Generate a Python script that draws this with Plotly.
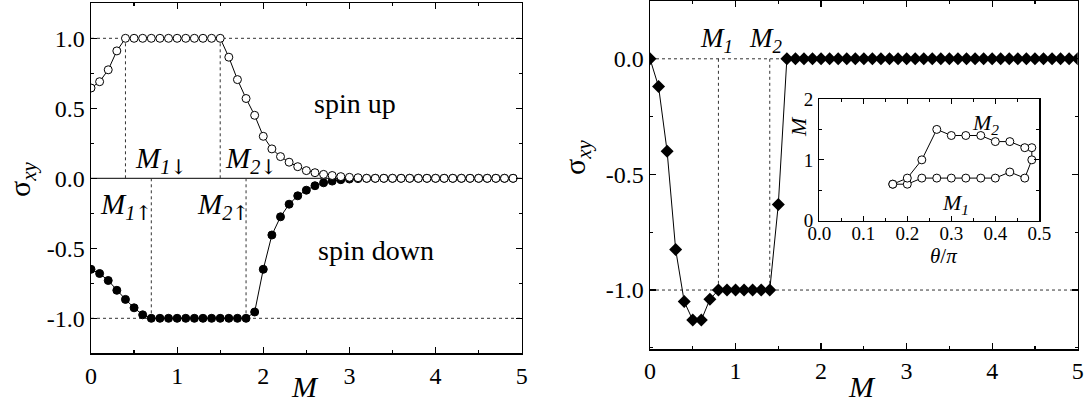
import plotly.graph_objects as go

# ---------------- data ----------------
M_left = [0.0, 0.1, 0.2, 0.3, 0.4, 0.5, 0.6, 0.7, 0.8, 0.9,
          1.0, 1.1, 1.2, 1.3, 1.4, 1.5, 1.6, 1.7, 1.8, 1.9,
          2.0, 2.1, 2.2, 2.3, 2.4, 2.5, 2.6, 2.7, 2.8, 2.9,
          3.0, 3.1, 3.2, 3.3, 3.4, 3.5, 3.6, 3.7, 3.8, 3.9,
          4.0, 4.1, 4.2, 4.3, 4.4, 4.5, 4.6, 4.7, 4.8, 4.9]
sigma_up = [0.645, 0.69, 0.775, 0.91, 1.0, 1.0, 1.0, 1.0, 1.0, 1.0,
            1.0, 1.0, 1.0, 1.0, 1.0, 1.0, 0.865, 0.705, 0.57, 0.45,
            0.30, 0.21, 0.155, 0.115, 0.083, 0.055, 0.04, 0.028, 0.02, 0.012,
            0.007, 0.004, 0, 0, 0, 0, 0, 0, 0, 0,
            0, 0, 0, 0, 0, 0, 0, 0, 0, 0]
sigma_down = [-0.65, -0.68, -0.73, -0.80, -0.865, -0.925, -0.975, -1.0, -1.0, -1.0,
              -1.0, -1.0, -1.0, -1.0, -1.0, -1.0, -1.0, -1.0, -1.0, -0.955,
              -0.65, -0.405, -0.275, -0.185, -0.125, -0.085, -0.053, -0.032, -0.02, -0.01,
              -0.005, -0.002, 0, 0, 0, 0, 0, 0, 0, 0,
              0, 0, 0, 0, 0, 0, 0, 0, 0, 0]
M1_down, M2_down, M1_up, M2_up = 0.4, 1.5, 0.7, 1.8

M_right = [0.0, 0.1, 0.2, 0.3, 0.4, 0.5, 0.6, 0.7, 0.8, 0.9,
           1.0, 1.1, 1.2, 1.3, 1.4, 1.5, 1.6, 1.7, 1.8, 1.9,
           2.0, 2.1, 2.2, 2.3, 2.4, 2.5, 2.6, 2.7, 2.8, 2.9,
           3.0, 3.1, 3.2, 3.3, 3.4, 3.5, 3.6, 3.7, 3.8, 3.9,
           4.0, 4.1, 4.2, 4.3, 4.4, 4.5, 4.6, 4.7, 4.8, 4.9, 5.0]
sigma_total = [0.0, -0.12, -0.40, -0.825, -1.05, -1.13, -1.13, -1.04, -1.0, -1.0,
               -1.0, -1.0, -1.0, -1.0, -1.0, -0.63, 0, 0, 0, 0,
               0, 0, 0, 0, 0, 0, 0, 0, 0, 0,
               0, 0, 0, 0, 0, 0, 0, 0, 0, 0,
               0, 0, 0, 0, 0, 0, 0, 0, 0, 0, 0]
M1_tot, M2_tot = 0.8, 1.4

theta_M1 = [0.167, 0.200, 0.233, 0.267, 0.300, 0.333, 0.367, 0.400, 0.433, 0.467]
val_M1 = [0.6, 0.6, 0.7, 0.7, 0.7, 0.7, 0.7, 0.7, 0.8, 0.7]
theta_join = [0.483]
val_join = [1.0]
theta_M2 = [0.483, 0.467, 0.433, 0.400, 0.367, 0.333, 0.300, 0.267, 0.233, 0.200, 0.167]
val_M2 = [1.2, 1.2, 1.3, 1.3, 1.4, 1.4, 1.4, 1.5, 1.0, 0.7, 0.6]

# ---------------- figure ----------------
W, H = 1086, 405
FONT = "Liberation Serif, Times New Roman, DejaVu Serif, serif"
ARROW_FONT = "DejaVu Serif"
DOWN = "<span style='font-family:DejaVu Serif'>\u2193</span>"
UP = "<span style='font-family:DejaVu Serif'>\u2191</span>"


def X(px):
    return px / W


def Y(py):
    return 1 - py / H


fig = go.Figure()

line_k = dict(color="black", width=1)
dotl = dict(color="#333", width=1, dash="dot")

# left panel reference lines
fig.add_trace(go.Scatter(x=[0, 5], y=[1, 1], mode="lines", xaxis="x", yaxis="y",
                         line=dotl, hoverinfo="skip"))
fig.add_trace(go.Scatter(x=[0, 5], y=[-1, -1], mode="lines", xaxis="x", yaxis="y",
                         line=dotl, hoverinfo="skip"))
fig.add_trace(go.Scatter(x=[0, 5], y=[0, 0], mode="lines", xaxis="x", yaxis="y",
                         line=dict(color="black", width=1), hoverinfo="skip"))
for xv, yv in [(M1_down, 1), (M2_down, 1), (M1_up, -1), (M2_up, -1)]:
    fig.add_trace(go.Scatter(x=[xv, xv], y=[0, yv], mode="lines", xaxis="x", yaxis="y",
                             line=dotl, hoverinfo="skip"))

fig.add_trace(go.Scatter(x=M_left, y=sigma_down, mode="lines+markers", xaxis="x", yaxis="y",
                         line=line_k,
                         marker=dict(symbol="circle", size=8, color="black",
                                     line=dict(color="black", width=1))))
fig.add_trace(go.Scatter(x=M_left, y=sigma_up, mode="lines+markers", xaxis="x", yaxis="y",
                         line=line_k,
                         marker=dict(symbol="circle", size=8, color="white",
                                     line=dict(color="black", width=1))))

# right panel reference lines
fig.add_trace(go.Scatter(x=[0, 5], y=[0, 0], mode="lines", xaxis="x2", yaxis="y2",
                         line=dotl, hoverinfo="skip"))
fig.add_trace(go.Scatter(x=[0, 5], y=[-1, -1], mode="lines", xaxis="x2", yaxis="y2",
                         line=dotl, hoverinfo="skip"))
for xv in [M1_tot, M2_tot]:
    fig.add_trace(go.Scatter(x=[xv, xv], y=[0, -1], mode="lines", xaxis="x2", yaxis="y2",
                             line=dotl, hoverinfo="skip"))
fig.add_trace(go.Scatter(x=M_right, y=sigma_total, mode="lines+markers", xaxis="x2", yaxis="y2",
                         line=line_k,
                         marker=dict(symbol="diamond", size=10, color="black",
                                     line=dict(color="black", width=0))))

# inset
fig.add_trace(go.Scatter(x=theta_M1 + theta_join + theta_M2, y=val_M1 + val_join + val_M2,
                         mode="lines+markers", xaxis="x3", yaxis="y3",
                         line=line_k,
                         marker=dict(symbol="circle", size=8, color="white",
                                     line=dict(color="black", width=1))))

tickfont = dict(family=FONT, size=24, color="black")
common = dict(showline=True, linecolor="black", linewidth=1.5, mirror="allticks",
              ticks="inside", ticklen=6, tickwidth=1.2, tickcolor="black",
              showgrid=False, zeroline=False, tickfont=tickfont, automargin=False)
inset_common = dict(showline=True, linecolor="black", linewidth=1.2, mirror="allticks",
                    ticks="inside", ticklen=5, tickcolor="black", showgrid=False,
                    zeroline=False, automargin=False,
                    tickfont=dict(family=FONT, size=19, color="black"))

fig.update_layout(
    width=W, height=H,
    margin=dict(l=0, r=0, t=0, b=0, autoexpand=False),
    paper_bgcolor="white", plot_bgcolor="white",
    showlegend=False,
    font=dict(family=FONT, color="black"),
    xaxis=dict(domain=[X(91), X(521.7)], range=[0, 5], anchor="y",
               tickvals=[0, 1, 2, 3, 4, 5],
               minor=dict(dtick=0.5, tick0=0, ticks="inside", ticklen=3, tickcolor="black"),
               **common),
    yaxis=dict(domain=[Y(353.3), Y(3.3)], range=[-1.25, 1.25], anchor="x",
               tickvals=[-1, -0.5, 0, 0.5, 1], ticktext=["-1.0", "-0.5", "0.0", "0.5", "1.0"],
               minor=dict(dtick=0.25, tick0=0, ticks="inside", ticklen=3, tickcolor="black"),
               **common),
    xaxis2=dict(domain=[X(650), X(1077.7)], range=[0, 5], anchor="y2",
                tickvals=[0, 1, 2, 3, 4, 5],
                minor=dict(dtick=0.5, tick0=0, ticks="inside", ticklen=3, tickcolor="black"),
                **common),
    yaxis2=dict(domain=[Y(349), Y(1)], range=[-1.255, 0.25], anchor="x2",
                tickvals=[-1, -0.5, 0], ticktext=["-1.0", "-0.5", "0.0"],
                minor=dict(dtick=0.25, tick0=0, ticks="inside", ticklen=3, tickcolor="black"),
                **common),
    xaxis3=dict(domain=[X(819.3), X(1039.3)], range=[0, 0.5], anchor="y3",
                tickvals=[0, 0.1, 0.2, 0.3, 0.4, 0.5],
                ticktext=["0.0", "0.1", "0.2", "0.3", "0.4", "0.5"],
                minor=dict(dtick=0.05, tick0=0, ticks="inside", ticklen=3, tickcolor="black"),
                ticklabelstandoff=-5,
                **inset_common),
    yaxis3=dict(domain=[Y(220.7), Y(99)], range=[0, 2], anchor="x3",
                tickvals=[0, 1, 2],
                minor=dict(dtick=0.5, tick0=0, ticks="inside", ticklen=3, tickcolor="black"),
                ticklabelstandoff=1,
                **inset_common),
)

# white background for inset
fig.add_shape(type="rect", xref="paper", yref="paper",
              x0=X(819.3), x1=X(1039.3), y0=Y(220.7), y1=Y(99),
              fillcolor="white", line=dict(width=0), layer="below")


def ann(text, px, py, size, xanchor="left", angle=0):
    fig.add_annotation(text=text, xref="paper", yref="paper", x=X(px), y=Y(py),
                       xanchor=xanchor, yanchor="middle", showarrow=False,
                       textangle=angle,
                       font=dict(family=FONT, size=size, color="black"))


# left panel labels
ann("<i>M</i><sub><i>1</i>" + DOWN + "</sub>", 133, 160, 29)
ann("<i>M</i><sub><i>2</i>" + DOWN + "</sub>", 223, 160, 29)
ann("<i>M</i><sub><i>1</i>" + UP + "</sub>", 98, 206, 29)
ann("<i>M</i><sub><i>2</i>" + UP + "</sub>", 195, 206, 29)
ann("spin up", 312, 103, 28)
ann("spin down", 316, 250, 28)
ann("<i>M</i>", 305, 386, 30, xanchor="center")
ann("σ<sub><i>xy</i></sub>", 22, 180, 30, xanchor="center", angle=-90)

# right panel labels
ann("<i>M</i><sub><i>1</i></sub>", 698, 40, 27)
ann("<i>M</i><sub><i>2</i></sub>", 747, 40, 27)
ann("<i>M</i>", 862, 386, 30, xanchor="center")
ann("σ<sub><i>xy</i></sub>", 577, 158, 30, xanchor="center", angle=-90)

# inset labels
ann("<i>M</i><sub><i>2</i></sub>", 970, 124, 22)
ann("<i>M</i><sub><i>1</i></sub>", 940, 204, 22)
ann("<i>θ</i>/<i>π</i>", 943, 256, 21, xanchor="center")
ann("<i>M</i>", 799, 127, 22, xanchor="center", angle=-90)

fig.write_html("out.html",
               config={"displayModeBar": False, "staticPlot": True},
               post_script="document.body.style.margin='0';document.body.style.overflow='hidden';")
